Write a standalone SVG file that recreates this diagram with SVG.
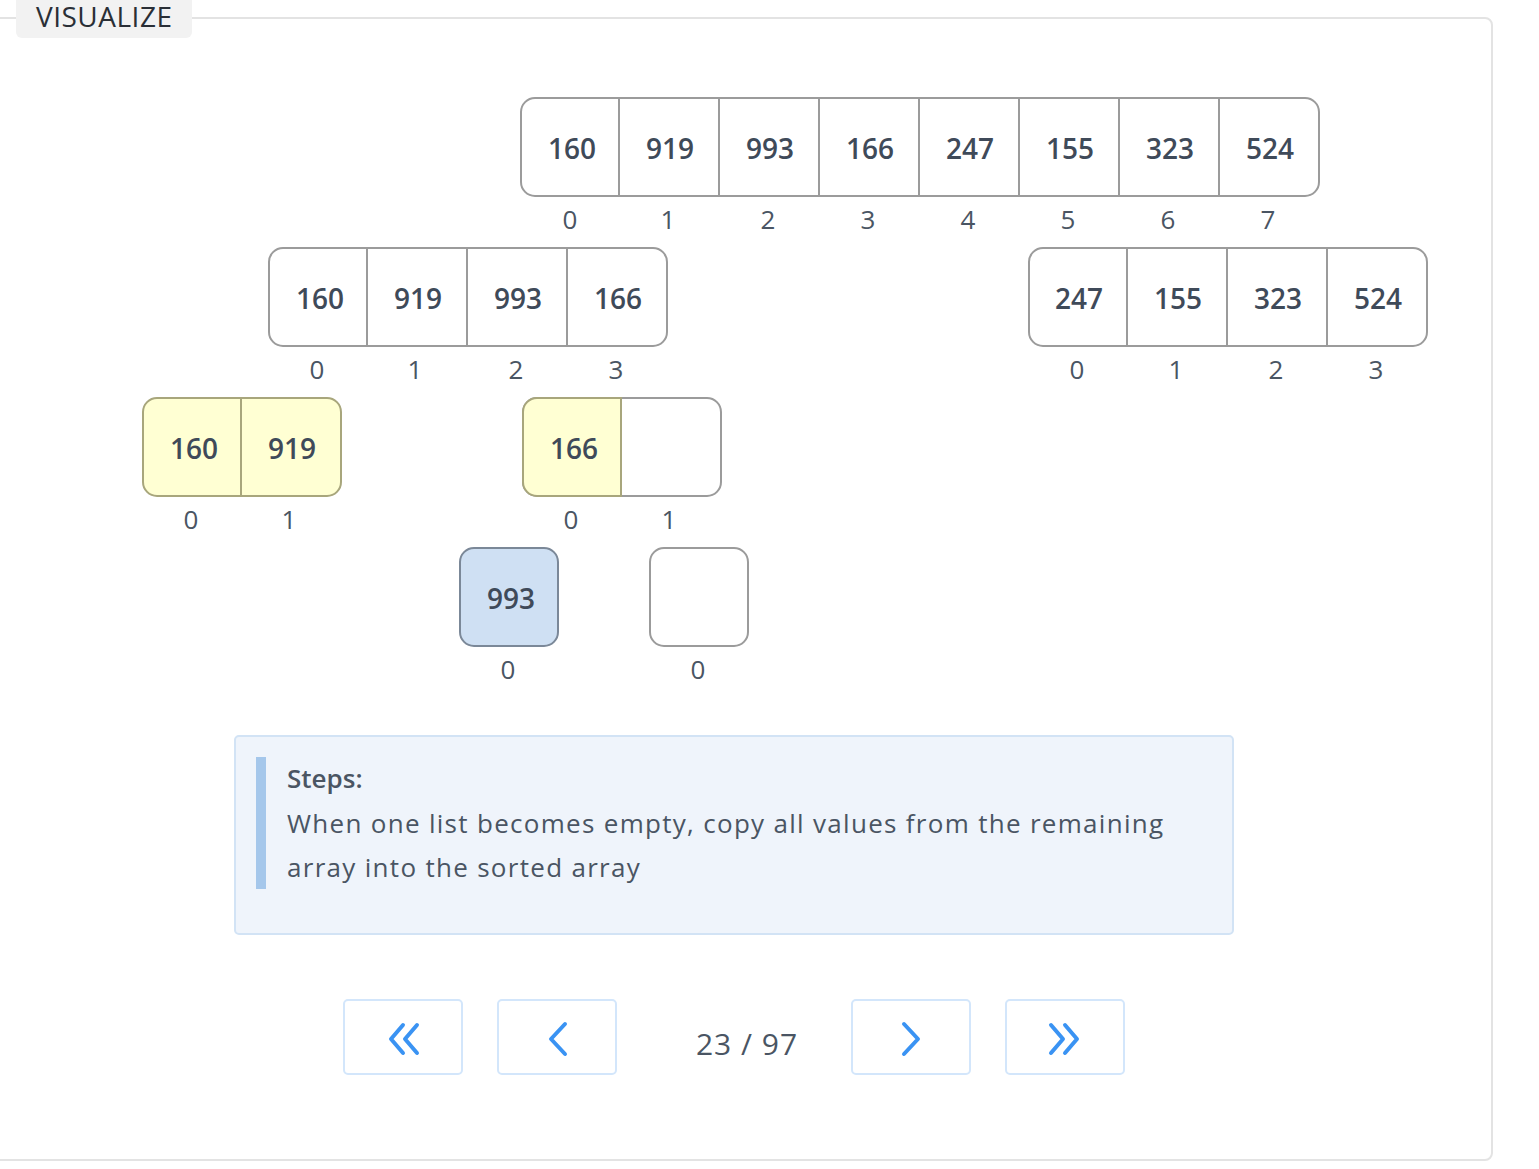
<svg xmlns="http://www.w3.org/2000/svg" width="1539" height="1169" viewBox="0 0 1539 1169">
<style>
.cell{fill:#ffffff;stroke:#9b9b9b;stroke-width:2}
.yel{fill:#ffffd3}
.ybord{fill:none;stroke:#a8a67c;stroke-width:2}
.div{stroke:#9b9b9b;stroke-width:2}
.ydiv{stroke:#a8a67c;stroke-width:2}
.val{font-family:"Open Sans","Noto Sans",sans-serif;font-size:28px;font-weight:600;fill:#3f4a59;text-anchor:middle}
.idx{font-family:"Open Sans","Noto Sans",sans-serif;font-size:26px;font-weight:400;fill:#4a5563;text-anchor:middle}
.btn{fill:#ffffff;stroke:#d3e6fb;stroke-width:2}
.chev{fill:none;stroke:#3a93f3;stroke-width:4;stroke-linecap:round;stroke-linejoin:round}
.txt{font-family:"Open Sans","Noto Sans",sans-serif;font-size:26px;fill:#4a5563}
</style>
<rect x="0" y="0" width="1539" height="1169" fill="#ffffff"/>
<g id="panel">
<rect x="-20" y="18" width="1512" height="1142" rx="7" fill="none" stroke="#e3e3e3" stroke-width="2"/>
<rect x="16" y="-10" width="176" height="48" rx="6" fill="#f2f2f2"/>
<text x="36" y="27" font-family="'Open Sans','Noto Sans',sans-serif" font-size="28" font-weight="500" letter-spacing="0.5" fill="#2a2f36">VISUALIZE</text>
</g>
<g id="connectors"></g>
<g id="array-top">
<rect class="cell" x="521" y="98" width="798" height="98" rx="14"/>
<line class="div" x1="619" y1="98" x2="619" y2="196"/>
<line class="div" x1="719" y1="98" x2="719" y2="196"/>
<line class="div" x1="819" y1="98" x2="819" y2="196"/>
<line class="div" x1="919" y1="98" x2="919" y2="196"/>
<line class="div" x1="1019" y1="98" x2="1019" y2="196"/>
<line class="div" x1="1119" y1="98" x2="1119" y2="196"/>
<line class="div" x1="1219" y1="98" x2="1219" y2="196"/>
<text class="val" x="572" y="159">160</text>
<text class="val" x="670" y="159">919</text>
<text class="val" x="770" y="159">993</text>
<text class="val" x="870" y="159">166</text>
<text class="val" x="970" y="159">247</text>
<text class="val" x="1070" y="159">155</text>
<text class="val" x="1170" y="159">323</text>
<text class="val" x="1270" y="159">524</text>
<text class="idx" x="570" y="229">0</text>
<text class="idx" x="668" y="229">1</text>
<text class="idx" x="768" y="229">2</text>
<text class="idx" x="868" y="229">3</text>
<text class="idx" x="968" y="229">4</text>
<text class="idx" x="1068" y="229">5</text>
<text class="idx" x="1168" y="229">6</text>
<text class="idx" x="1268" y="229">7</text>
</g>
<g id="array-left">
<rect class="cell" x="269" y="248" width="398" height="98" rx="14"/>
<line class="div" x1="367" y1="248" x2="367" y2="346"/>
<line class="div" x1="467" y1="248" x2="467" y2="346"/>
<line class="div" x1="567" y1="248" x2="567" y2="346"/>
<text class="val" x="320" y="309">160</text>
<text class="val" x="418" y="309">919</text>
<text class="val" x="518" y="309">993</text>
<text class="val" x="618" y="309">166</text>
<text class="idx" x="317" y="379">0</text>
<text class="idx" x="415" y="379">1</text>
<text class="idx" x="516" y="379">2</text>
<text class="idx" x="616" y="379">3</text>
</g>
<g id="array-right">
<rect class="cell" x="1029" y="248" width="398" height="98" rx="14"/>
<line class="div" x1="1127" y1="248" x2="1127" y2="346"/>
<line class="div" x1="1227" y1="248" x2="1227" y2="346"/>
<line class="div" x1="1327" y1="248" x2="1327" y2="346"/>
<text class="val" x="1079" y="309">247</text>
<text class="val" x="1178" y="309">155</text>
<text class="val" x="1278" y="309">323</text>
<text class="val" x="1378" y="309">524</text>
<text class="idx" x="1077" y="379">0</text>
<text class="idx" x="1176" y="379">1</text>
<text class="idx" x="1276" y="379">2</text>
<text class="idx" x="1376" y="379">3</text>
</g>
<g id="array-ll">
<rect class="yel" x="143" y="398" width="198" height="98" rx="14"/>
<rect class="ybord" x="143" y="398" width="198" height="98" rx="14"/>
<line class="ydiv" x1="241" y1="398" x2="241" y2="496"/>
<text class="val" x="194" y="459">160</text>
<text class="val" x="292" y="459">919</text>
<text class="idx" x="191" y="529">0</text>
<text class="idx" x="289" y="529">1</text>
</g>
<g id="array-lr">
<rect class="cell" x="523" y="398" width="198" height="98" rx="14"/>
<path d="M621,398 H537 A14,14 0 0 0 523,412 V482 A14,14 0 0 0 537,496 H621 Z" fill="#ffffd3" stroke="#a8a67c" stroke-width="2"/>
<text class="val" x="574" y="459">166</text>
<text class="idx" x="571" y="529">0</text>
<text class="idx" x="669" y="529">1</text>
</g>
<g id="array-993">
<rect x="460" y="548" width="98" height="98" rx="14" fill="#cfe0f3" stroke="#7b8898" stroke-width="2"/>
<text class="val" x="511" y="609">993</text>
<text class="idx" x="508" y="679">0</text>
</g>
<g id="array-empty">
<rect class="cell" x="650" y="548" width="98" height="98" rx="14"/>
<text class="idx" x="698" y="679">0</text>
</g>
<g id="steps">
<rect x="235" y="736" width="998" height="198" rx="4" fill="#eff4fb" stroke="#d2e3f5" stroke-width="2"/>
<rect x="256" y="757" width="10" height="132" fill="#a5c7eb"/>
<text class="txt" x="287" y="788" font-weight="600">Steps:</text>
<text class="txt" x="287" y="833" letter-spacing="1.3">When one list becomes empty, copy all values from the remaining</text>
<text class="txt" x="287" y="877" letter-spacing="1.3">array into the sorted array</text>
</g>
<g id="nav">
<rect class="btn" x="344" y="1000" width="118" height="74" rx="4"/>
<polyline class="chev" points="403,1025 391,1039 403,1053"/>
<polyline class="chev" points="417,1025 405,1039 417,1053"/>
<rect class="btn" x="498" y="1000" width="118" height="74" rx="4"/>
<polyline class="chev" points="565,1024 551,1039 565,1054"/>
<text x="747" y="1055" text-anchor="middle" font-family="'Open Sans','Noto Sans',sans-serif" font-size="30" letter-spacing="1" fill="#4a5563">23 / 97</text>
<rect class="btn" x="852" y="1000" width="118" height="74" rx="4"/>
<polyline class="chev" points="904,1024 918,1039 904,1054"/>
<rect class="btn" x="1006" y="1000" width="118" height="74" rx="4"/>
<polyline class="chev" points="1051,1025 1063,1039 1051,1053"/>
<polyline class="chev" points="1065,1025 1077,1039 1065,1053"/>
</g>
</svg>
